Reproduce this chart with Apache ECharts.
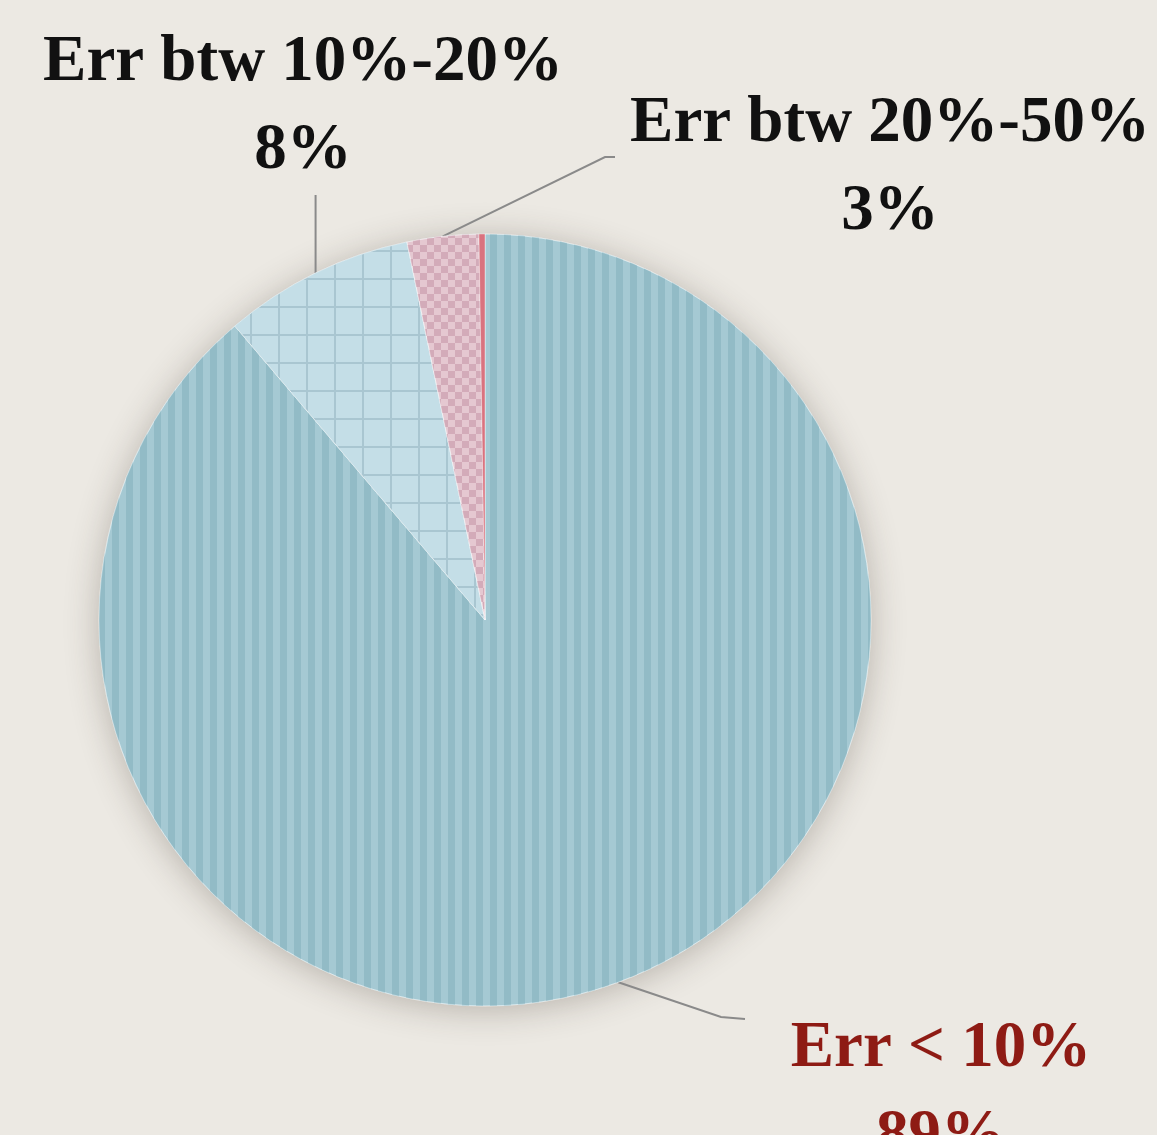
<!DOCTYPE html>
<html>
<head>
<meta charset="utf-8">
<script src="https://cdn.jsdelivr.net/npm/echarts@6/dist/echarts.min.js"></script>
<style>
html,body{margin:0;padding:0;background:#ece8e1;}
#chart{width:1157px;height:1135px;}
</style>
</head>
<body>
<div id="chart"></div>
<script>
// Data
const categories = ['Err < 10%', 'Err btw 10%-20%', 'Err btw 20%-50%', 'Err > 50%'];
const values = [89, 8, 3, 0.25];
const shownPercents = ['89%', '8%', '3%', ''];

// Styles
const sliceColors = ['#a5c9d3', '#a9c6d1', '#e5c8d1', '#d9737f'];
const decals = [
  {symbol: 'rect', symbolSize: 1, color: '#92bbc6', dashArrayX: [7, 7], dashArrayY: [10, 0]},
  {symbol: 'rect', symbolSize: 1, color: '#c4dee7', dashArrayX: [26, 2], dashArrayY: [26, 2]},
  {symbol: 'rect', symbolSize: 1, color: '#d3abb9', dashArrayX: [[7, 7], [0, 7, 7, 0]], dashArrayY: [7, 0]},
  null
];
const labelColors = ['#8e1b14', '#111111', '#111111', '#111111'];
const labelPos = [
  {x: 941, y: 1093},
  {x: 303, y: 107},
  {x: 890, y: 168},
  null
];

const CX = 485, CY = 620, R = 386;

const chart = echarts.init(document.getElementById('chart'), null, {renderer: 'canvas'});

const data = categories.map((name, i) => ({
  name: name,
  value: values[i],
  itemStyle: Object.assign({color: sliceColors[i]}, decals[i] ? {decal: decals[i]} : {}),
  label: {show: i < 3, color: labelColors[i]},
  labelLine: {show: i < 3}
}));

chart.setOption({
  backgroundColor: '#ece9e3',
  animation: false,
  graphic: [{
    type: 'circle',
    z: -10,
    silent: true,
    shape: {cx: CX, cy: CY, r: R},
    style: {fill: '#a2c7d1', shadowBlur: 34, shadowOffsetY: 4, shadowColor: 'rgba(60,50,40,0.3)'}
  }],
  series: [{
    type: 'pie',
    center: [CX, CY],
    radius: R,
    startAngle: 90,
    clockwise: true,
    data: data,
    itemStyle: {
      borderColor: 'rgba(255,255,255,0.35)',
      borderWidth: 1
    },
    label: {
      show: true,
      formatter: p => p.name + '\n' + shownPercents[p.dataIndex],
      fontFamily: 'Liberation Serif',
      fontWeight: 'bold',
      fontSize: 65,
      lineHeight: 88,
      align: 'center',
      overflow: 'none'
    },
    labelLine: {
      show: true,
      lineStyle: {color: '#8a8a8a', width: 2}
    },
    labelLayout: function (p) {
      const i = p.dataIndex;
      const pos = labelPos[i];
      if (!pos) return {};
      const s = p.labelLinePoints ? p.labelLinePoints[0] : [0, 0];
      let pts;
      if (i === 0) pts = [s, [721, 1017], [745, 1019]];
      else if (i === 1) pts = [s, [s[0], 200], [s[0], 195]];
      else pts = [s, [605, 157], [615, 157]];
      return {x: pos.x, y: pos.y, align: 'center', verticalAlign: 'middle', labelLinePoints: pts};
    }
  }]
});
</script>
</body>
</html>
